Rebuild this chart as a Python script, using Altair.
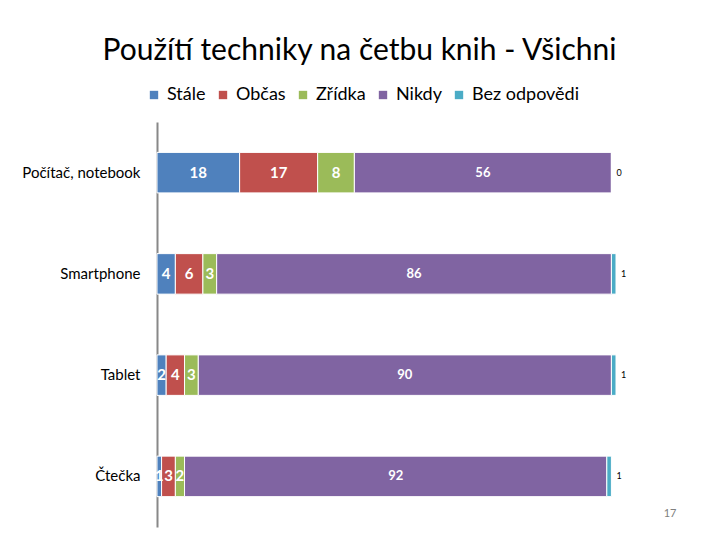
import altair as alt
import pandas as pd

categories = ["Počítač, notebook", "Smartphone", "Tablet", "Čtečka"]
series = ["Stále", "Občas", "Zřídka", "Nikdy", "Bez odpovědi"]
stale = [18, 4, 2, 1]
obcas = [17, 6, 4, 3]
zridka = [8, 3, 3, 2]
nikdy = [56, 86, 90, 92]
bez = [0, 1, 1, 1]
colors = ["#4F81BD", "#C0504D", "#9BBB59", "#8064A2", "#4BACC6"]
page_number = ["17"]

rows = []
for i, c in enumerate(categories):
    for j, (s, vals) in enumerate(zip(series, [stale, obcas, zridka, nikdy, bez])):
        rows.append({"kat": c, "serie": s, "poradi": j, "hodnota": vals[i]})
df = pd.DataFrame(rows)

FONT = "Lato"

base = alt.Chart(df).transform_stack(
    stack="hodnota", groupby=["kat"], as_=["x0", "x1"], sort=[alt.SortField("poradi")]
).transform_calculate(
    mid="(datum.x0 + datum.x1) / 2"
)

xscale = alt.Scale(domain=[0, 100], nice=False, zero=True)
yenc = alt.Y("kat:N", sort=categories, scale=alt.Scale(paddingInner=0.6, paddingOuter=0.3),
             axis=alt.Axis(title=None, ticks=False, domainColor="#888888", domainWidth=2,
                           labelFont=FONT, labelFontSize=15, labelColor="#000000",
                           labelPadding=17, grid=False))

bars = base.mark_bar(stroke="white", strokeWidth=1).encode(
    x=alt.X("x0:Q", scale=xscale, axis=None),
    x2="x1:Q",
    y=yenc,
    color=alt.Color("serie:N", sort=series,
                    scale=alt.Scale(domain=series, range=colors),
                    legend=alt.Legend(title=None, orient="none", direction="horizontal",
                                      legendX=-12, legendY=-36, symbolType="square",
                                      symbolSize=70, symbolStrokeWidth=0,
                                      labelFont=FONT, labelFontSize=18, labelColor="#000000",
                                      columnPadding=8, labelOffset=4)),
    order=alt.Order("poradi:Q"),
)

inner_big = base.transform_filter("datum.poradi < 3 && datum.hodnota > 0").mark_text(
    color="white", font=FONT, fontSize=15, fontWeight="bold"
).encode(x=alt.X("mid:Q", scale=xscale), y=alt.Y("kat:N", sort=categories), text="hodnota:Q")

inner_nikdy = base.transform_filter("datum.poradi == 3").mark_text(
    color="white", font=FONT, fontSize=13, fontWeight="bold"
).encode(x=alt.X("mid:Q", scale=xscale), y=alt.Y("kat:N", sort=categories), text="hodnota:Q")

outer = base.transform_filter("datum.poradi == 4").mark_text(
    color="black", font=FONT, fontSize=9, align="left", dx=5
).encode(x=alt.X("x1:Q", scale=xscale), y=alt.Y("kat:N", sort=categories), text="hodnota:Q")

page = alt.Chart(pd.DataFrame({"t": page_number})).mark_text(
    color="#808080", font=FONT, fontSize=11
).encode(x=alt.value(513), y=alt.value(392), text="t:N")

chart = alt.layer(bars, inner_big, inner_nikdy, outer, page).properties(
    width=459, height=405,
    title=alt.TitleParams("Použítí techniky na četbu knih - Všichni", font=FONT, fontSize=30,
                          fontWeight="normal", color="#000000", anchor="middle", dx=-27, offset=20),
    autosize=alt.AutoSizeParams(type="none"),
    padding={"left": 149, "top": 114, "right": 80, "bottom": 8},
).configure_view(stroke=None)

chart.save("out.html", embed_options={"renderer": "svg", "actions": False})
